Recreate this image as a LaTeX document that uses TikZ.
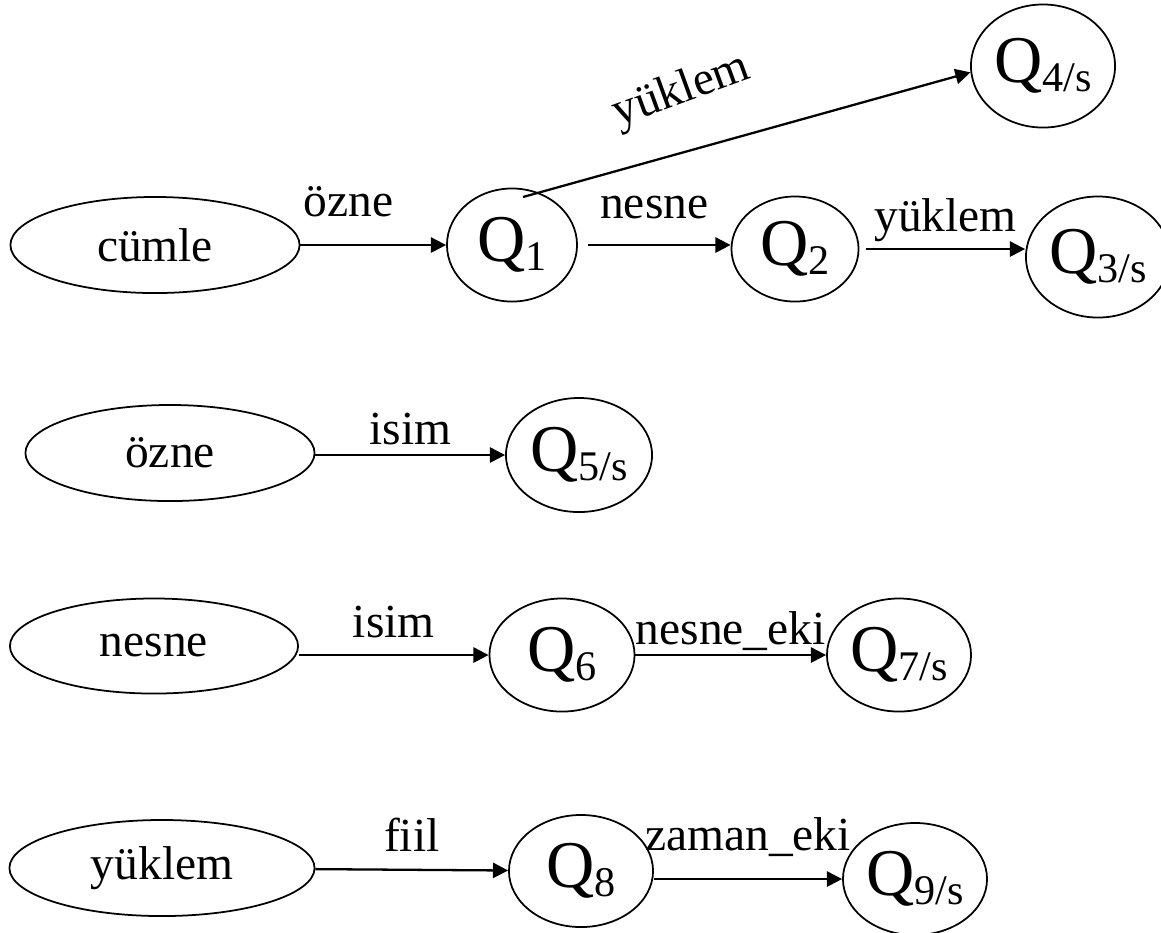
\documentclass[tikz,border=0pt]{standalone}
\usepackage{fontspec}
\setmainfont{Liberation Serif}
\usetikzlibrary{arrows.meta,shapes.geometric}
\newcommand{\qstate}[1]{{\fontsize{19}{19}\selectfont Q\raisebox{-2.5pt}{\fontsize{12}{12}\selectfont #1}}}

\begin{document}
\begin{tikzpicture}[x=0.01cm,y=-0.01cm,
every node/.style={font=\fontsize{13.5}{13.5}\selectfont},
rule/.style={draw,ellipse,inner sep=0pt,line width=0.5pt,minimum height=0.96cm},
state/.style={draw,ellipse,inner sep=0pt,line width=0.5pt},
arc/.style={->,line width=0.65pt},
lbl/.style={inner sep=0pt,text depth=0pt},
>={Triangle[length=4.3pt,width=4.3pt]}]
\useasboundingbox (0,0) rectangle (1161,932);
% cumle
\node[rule,minimum width=2.89cm] (cumle) at (155,245) {cümle};
\node[state,minimum width=1.3cm,minimum height=1.13cm] (q1) at (512,245) {\qstate{1}};
\node[state,minimum width=1.27cm,minimum height=1.05cm] (q2) at (795,249) {\qstate{2}};
\node[state,minimum width=1.44cm,minimum height=1.21cm] (q3) at (1098,257) {\qstate{3/s}};
\node[state,minimum width=1.44cm,minimum height=1.23cm] (q4) at (1043,66) {\qstate{4/s}};
\coordinate (q1top) at (523,197);
\draw[arc] (cumle) -- node[lbl,pos=0.33,above=7.7pt]{özne} (q1);
\draw[arc,shorten <=2.8pt] (q1.east) -- node[lbl,above=7.1pt]{nesne} (q1.east -| q2.west);
\draw[arc,shorten <=2pt] (q2.east) -- node[lbl,pos=0.52,above=4.6pt]{yüklem} (q2.east -| q3.west);
\draw[arc] (q1top) -- node[pos=0.4,rotate=20,above=7pt]{yüklem} (q4.185);
% ozne
\node[rule,minimum width=2.89cm] (ozne) at (170,453) {özne};
\node[state,minimum width=1.46cm,minimum height=1.14cm] (q5) at (579,455) {\qstate{5/s}};
\draw[arc] (ozne.east |- q5.west) -- node[lbl,above=2.6pt]{isim} (q5.west);
% nesne
\node[rule,minimum width=2.88cm,minimum height=0.95cm] (nesne) at (154,646) {nesne};
\node[state,minimum width=1.45cm,minimum height=1.13cm] (q6) at (562,655) {\qstate{6}};
\node[state,minimum width=1.44cm,minimum height=1.13cm] (q7) at (899,655) {\qstate{7/s}};
\draw[arc] (nesne.east |- q6.west) -- node[lbl,above=4.6pt]{isim} (q6.west);
\draw[arc] (q6.east) -- node[lbl,above=2.8pt]{nesne\_eki} (q6.east -| q7.west);
% yuklem
\node[rule,minimum width=3.05cm] (yuklem) at (162,868) {yüklem};
\node[state,minimum width=1.44cm,minimum height=1.12cm] (q8) at (581,871) {\qstate{8}};
\node[state,minimum width=1.44cm,minimum height=1.12cm] (q9) at (915,879) {\qstate{9/s}};
\draw[arc] (yuklem) -- node[lbl,above=4.8pt]{fiil} (q8);
\draw[arc] (q8.east |- q9.west) -- node[lbl,above=7.7pt]{zaman\_eki} (q9.west);
\end{tikzpicture}
\end{document}
